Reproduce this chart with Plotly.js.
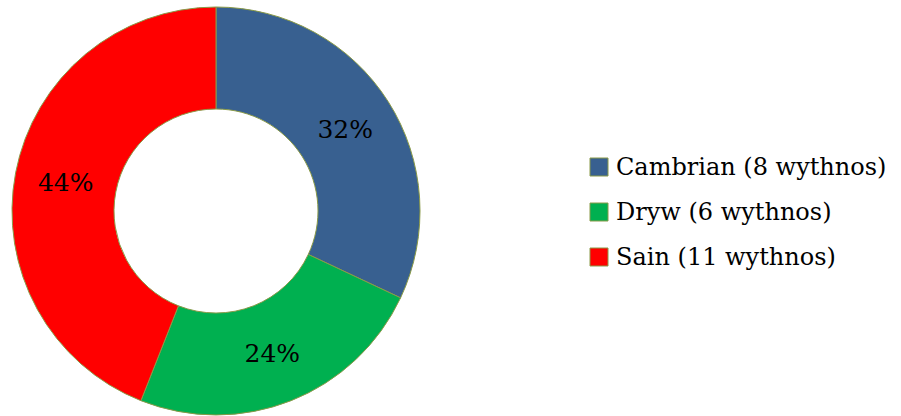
<!DOCTYPE html>
<html><head><meta charset="utf-8">
<script src="https://cdn.plot.ly/plotly-3.0.1.min.js"></script>
<style>html,body{margin:0;padding:0;background:#fff}</style>
</head><body><div id="chart" style="width:901px;height:416px"></div>
<script>
const labels = ["Cambrian (8 wythnos)", "Dryw (6 wythnos)", "Sain (11 wythnos)"];
const values = [8, 6, 11];
const colors = ["#386090", "#00B050", "#FF0000"];
const borderColor = "#8A9A48";
const fontFam = "DejaVu Serif, Liberation Serif, serif";

const W = 901, H = 416;
const legX0 = 590, legY0 = 167, legGap = 45, sq = 18;
const shapes = [], annotations = [];
labels.forEach((lab, i) => {
  const cy = legY0 + i * legGap;
  shapes.push({type: "rect", xref: "paper", yref: "paper",
    x0: legX0 / W, x1: (legX0 + sq) / W, y0: 1 - (cy + sq / 2) / H, y1: 1 - (cy - sq / 2) / H,
    fillcolor: colors[i], line: {color: borderColor, width: 1}});
  annotations.push({xref: "paper", yref: "paper", x: (legX0 + sq + 6) / W, y: 1 - cy / H,
    xanchor: "left", yanchor: "middle", text: lab, showarrow: false,
    font: {family: fontFam, size: 24, color: "#000"}});
});

const trace = {
  type: "pie", labels: labels, values: values, hole: 0.5, sort: false,
  direction: "clockwise", rotation: 0,
  marker: {colors: colors, line: {color: borderColor, width: 1}},
  textinfo: "percent", textposition: "inside", insidetextorientation: "horizontal",
  textfont: {family: fontFam, size: 25, color: "#000"},
  domain: {x: [12 / W, 420 / W], y: [1 / H, 409 / H]},
  showlegend: false, hoverinfo: "label+percent"
};
Plotly.newPlot("chart", [trace], {
  width: W, height: H, margin: {l: 0, r: 0, t: 0, b: 0},
  paper_bgcolor: "#fff", showlegend: false, shapes: shapes, annotations: annotations
}, {displayModeBar: false, staticPlot: true});
</script></body></html>
